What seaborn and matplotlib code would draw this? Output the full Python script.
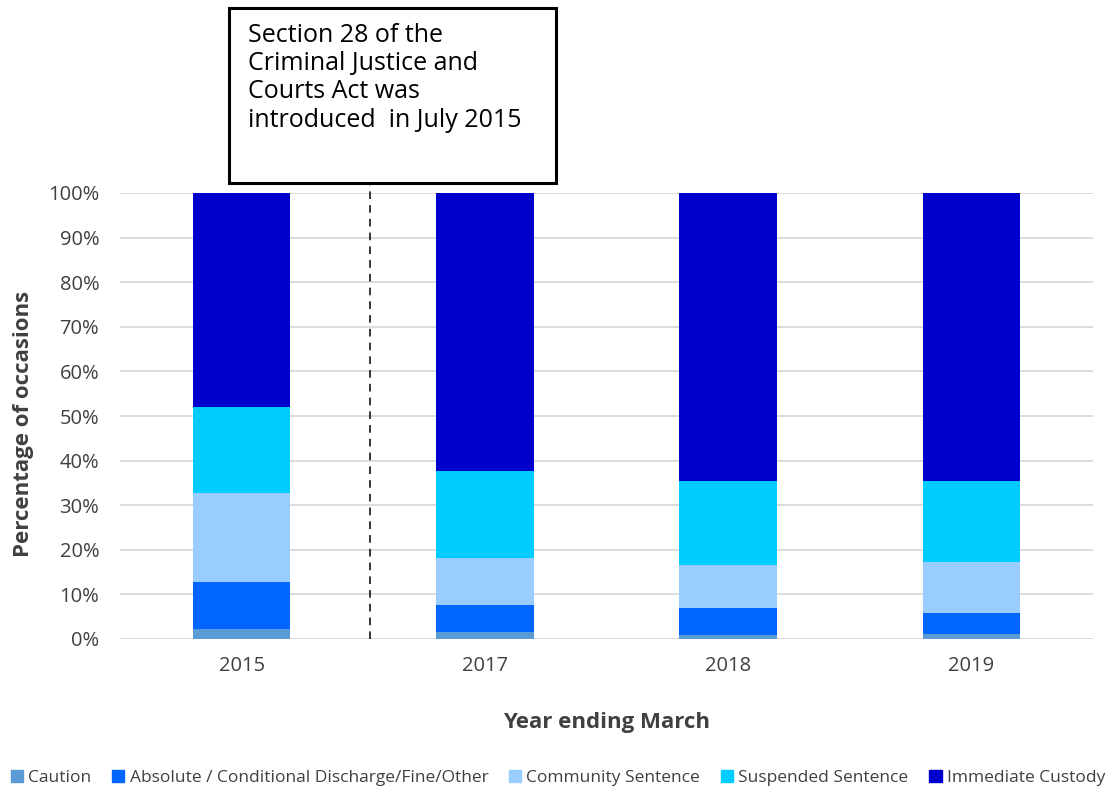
import numpy as np
import pandas as pd
import matplotlib
matplotlib.use("Agg")
import matplotlib.pyplot as plt
import matplotlib.patches as mpatches
import seaborn as sns

# Values (percent of occasions)
years = ["2015", "2017", "2018", "2019"]
caution = [2.3, 1.6, 0.9, 1.1]
discharge = [10.4, 6.0, 6.0, 4.7]
community = [20.0, 10.5, 9.7, 11.5]
suspended = [19.3, 19.6, 18.8, 18.1]
custody = [48.0, 62.3, 64.6, 64.6]

labels = ["Caution", "Absolute / Conditional Discharge/Fine/Other",
          "Community Sentence", "Suspended Sentence", "Immediate Custody"]
colors = ["#5B9BD5", "#0066FF", "#99CCFF", "#00CCFF", "#0000CC"]
note = "Section 28 of the\nCriminal Justice and\nCourts Act was\nintroduced  in July 2015"

df = pd.DataFrame({"Year": years, labels[0]: caution, labels[1]: discharge,
                   labels[2]: community, labels[3]: suspended, labels[4]: custody})
cum = df[labels].cumsum(axis=1)
cum["Year"] = df["Year"]

sns.set_style("white")
plt.rcParams["font.family"] = ["Open Sans", "DejaVu Sans"]

fig = plt.figure(figsize=(11.12, 7.89), dpi=100)
W, H = 1112, 789
ax = fig.add_axes([120 / W, 1 - 639 / H, (1093 - 120) / W, (639 - 193) / H])

# stacked bars: draw cumulative totals from the top layer down
for lab, col in zip(labels[::-1], colors[::-1]):
    sns.barplot(data=cum, x="Year", y=lab, order=years, color=col,
                width=0.4, saturation=1, ax=ax, zorder=3, linewidth=0)

ax.set_ylim(0, 100)
ax.set_xlim(-0.5, 3.5)
ax.set_yticks(np.arange(0, 101, 10))
ax.set_yticklabels([f"{v}%" for v in range(0, 101, 10)])
ax.yaxis.grid(True, color="#D9D9D9", linewidth=1.3, zorder=0)
ax.set_axisbelow(True)
for s in ax.spines.values():
    s.set_visible(False)
ax.tick_params(axis="y", length=0, labelsize=14.5, colors="#404040", pad=15)
ax.tick_params(axis="x", length=0, labelsize=14.5, colors="#404040", pad=12)
ax.set_xlabel("Year ending March", fontsize=16, fontweight="bold", color="#404040", labelpad=26)
ax.set_ylabel("Percentage of occasions", fontsize=16, fontweight="bold", color="#404040")
ax.yaxis.set_label_coords(-0.088, 0.482)

# dashed policy line between 2015 and 2017
ax.plot([0.528, 0.528], [0, 102.3], color="black", linestyle=(0, (5, 4)),
        linewidth=1.1, clip_on=False, zorder=4)

# annotation box
rect = mpatches.Rectangle((229 / W, 1 - 183 / H), 327 / W, 175 / H, transform=fig.transFigure,
                          facecolor="white", edgecolor="black", linewidth=2.2)
fig.patches.append(rect)
fig.text(248 / W, 1 - 23 / H, note, fontsize=18, va="top", ha="left",
         color="black", linespacing=1.17)

handles = [mpatches.Patch(color=c, label=l) for l, c in zip(labels, colors)]
fig.legend(handles=handles, loc="center", bbox_to_anchor=(558 / W, 1 - 778 / H), ncol=5,
           frameon=False, fontsize=12.5, handlelength=0.7, handleheight=0.7,
           handletextpad=0.3, columnspacing=1.2, labelcolor="#404040")

fig.savefig("out.png", dpi=100)
